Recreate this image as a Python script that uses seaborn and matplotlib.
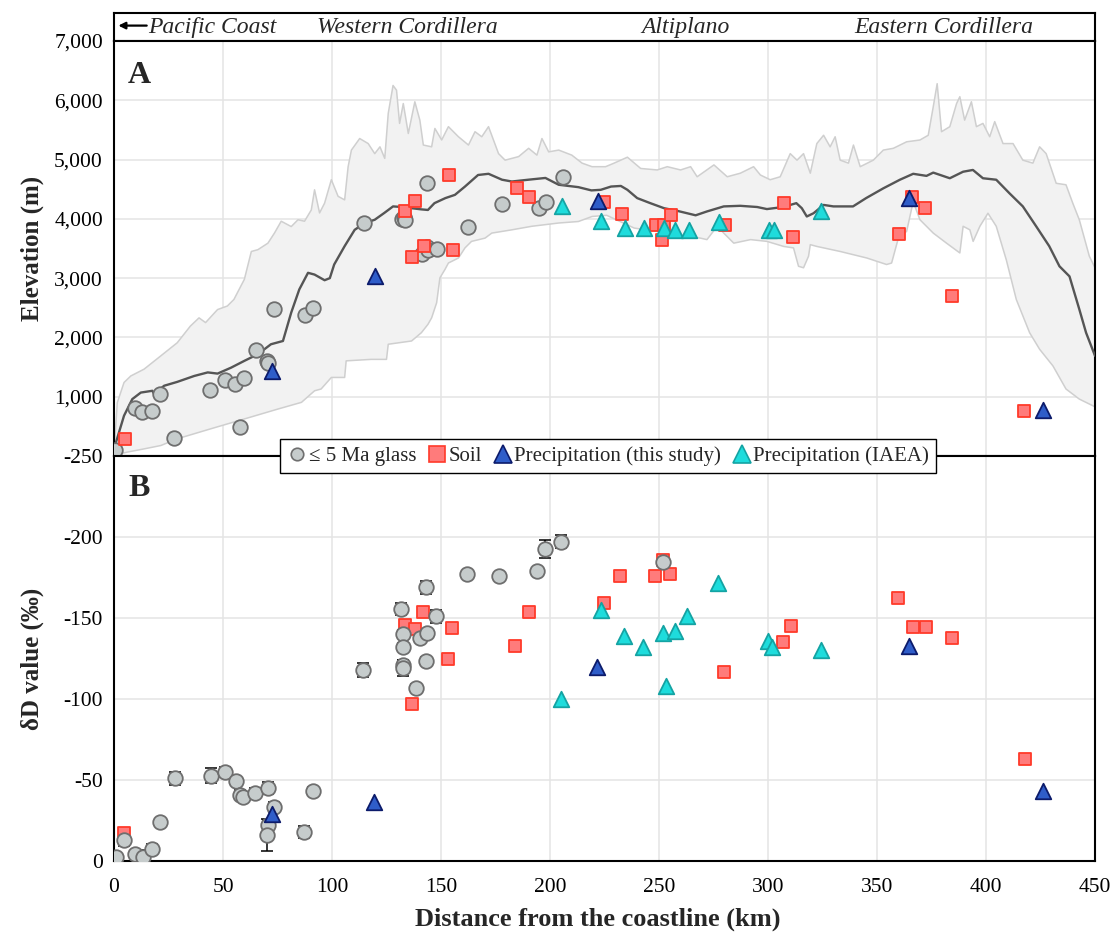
import matplotlib
matplotlib.use("Agg")
import matplotlib.pyplot as plt
import seaborn as sns
from matplotlib.ticker import FuncFormatter
from matplotlib.lines import Line2D

# ---------------- data ----------------
x_ticks = [0, 50, 100, 150, 200, 250, 300, 350, 400, 450]
elev_ticks = [1000, 2000, 3000, 4000, 5000, 6000, 7000]
dD_ticks = [0, -50, -100, -150, -200, -250]
region_labels = ["Western Cordillera", "Altiplano", "Eastern Cordillera"]
region_km = [134.4, 262.0, 380.7]

# topographic swath profile (km, m)
mean_km = [0, 4.6, 8.4, 12.3, 17.6, 18.4, 23, 29, 36.8, 43,
           47.5, 53.7, 59.8, 66, 72, 77.5, 81.3, 85, 89, 92,
           96.6, 99, 101, 105.8, 110.4, 115, 119.6, 124, 128, 132,
           136.5, 141, 144, 147, 152, 156.4, 161, 167, 171.8, 178,
           182.5, 190, 197.9, 204, 213, 219, 223.3, 228, 232.5, 235.5,
           240, 246, 252.3, 258.4, 266.8, 272, 279.7, 287.3, 295, 299.5,
           307, 313, 315.5, 317.8, 320.9, 325.5, 330, 339, 345, 352.9,
           360.5, 366.6, 372.7, 375.8, 383.4, 389.5, 394, 398.6, 404.7, 410.8,
           416.9, 423, 429, 433.7, 438.3, 442.8, 445.9, 450]
mean_elev = [120, 680, 960, 1070, 1100, 1045, 1185, 1250, 1350, 1410,
             1390, 1490, 1605, 1717, 1885, 1940, 2420, 2810, 3090, 3060,
             2965, 3000, 3230, 3540, 3815, 3930, 3985, 4100, 4210, 4200,
             4180, 4160, 4150, 4265, 4350, 4405, 4545, 4740, 4760, 4660,
             4630, 4660, 4690, 4575, 4535, 4480, 4490, 4545, 4555, 4490,
             4350, 4265, 4180, 4135, 4060, 4125, 4210, 4220, 4200, 4165,
             4200, 4265, 4180, 4040, 4095, 4235, 4210, 4210, 4350, 4515,
             4660, 4760, 4725, 4780, 4685, 4795, 4825, 4685, 4660, 4430,
             4210, 3875, 3540, 3200, 3030, 2475, 2080, 1690]

max_km = [0, 1.5, 4.6, 7.7, 13.8, 21.5, 29, 35, 39, 42,
          47.5, 52, 55, 59.8, 63, 66, 70.6, 73.6, 76.7, 81.3,
          84.4, 87.4, 90.5, 92, 94.3, 96.6, 99.7, 102.8, 105.8, 107.4,
          108.9, 112.7, 116.6, 119.6, 122, 124.2, 125.8, 128, 129.6, 131,
          132.7, 135, 138, 140.3, 141.9, 145.7, 147.2, 150.3, 153.4, 158,
          162.6, 165.6, 168.7, 171.8, 176.4, 179.4, 185.6, 190.2, 194, 196.3,
          199.4, 204, 210, 214.7, 219.3, 225.5, 229.4, 235.5, 241.6, 249.2,
          253.8, 259.9, 264.5, 267.5, 275.2, 281.3, 287.3, 293.4, 296.5, 301,
          305.6, 310.2, 313.3, 316.3, 319.4, 322.4, 325.5, 328.5, 330.8, 333.1,
          336.9, 339.2, 342.3, 348.3, 352.9, 357.5, 363.6, 369.7, 373.5, 375.8,
          377.6, 379.6, 383.4, 386.5, 388, 390.2, 393.3, 395.6, 398.6, 401.7,
          404, 407.8, 412.4, 416.9, 421.5, 424.6, 427.6, 432.2, 436.7, 439.8,
          442.8, 447.4, 450]
max_elev = [50, 900, 1240, 1350, 1465, 1690, 1910, 2190, 2330, 2250,
            2470, 2530, 2640, 2980, 3450, 3480, 3590, 3760, 3960, 3870,
            3985, 3960, 4150, 4490, 4100, 4265, 4660, 4380, 4320, 4880,
            5160, 5355, 5270, 5100, 5215, 5020, 5780, 6250, 6170, 5610,
            5945, 5440, 5975, 5665, 5245, 5215, 5525, 5330, 5555, 5385,
            5245, 5470, 5385, 5555, 5100, 4990, 5050, 5190, 5075, 5355,
            5130, 5160, 5075, 4940, 4880, 4880, 4940, 5040, 4850, 4825,
            4880, 4825, 4880, 4710, 4910, 4710, 4770, 4880, 4740, 4660,
            4710, 5100, 4990, 5100, 4770, 5270, 5410, 5215, 5385, 4990,
            4940, 5245, 4880, 4990, 5160, 5190, 5300, 5330, 5410, 5890,
            6280, 5470, 5555, 5945, 6060, 5665, 5975, 5555, 5610, 5385,
            5640, 5270, 5270, 4990, 4940, 5215, 5100, 4600, 4575, 4265,
            3985, 3370, 3175]

min_km = [0, 6, 13.8, 21.5, 29, 44.5, 59.8, 75, 86, 92,
          95, 99.7, 105.8, 106.5, 118, 125, 125.8, 136.5, 141, 144,
          145.7, 148, 149.5, 151.8, 153.4, 158, 161, 164, 170.2, 173.3,
          182.5, 191.7, 204, 213, 219.3, 226, 238.6, 253.8, 263, 269,
          272, 276.7, 279.7, 284.3, 292, 299.5, 307.2, 311.7, 314, 316.3,
          318.6, 319.4, 322.4, 333.1, 345.3, 354.4, 356.7, 359.8, 363.6, 366.6,
          369.7, 375.8, 381.9, 388, 389.5, 392.6, 394.1, 397.2, 400.9, 404.7,
          409.3, 413.9, 420, 424.6, 430.7, 436.7, 442.8, 450]
min_elev = [10, 65, 120, 177, 290, 460, 625, 790, 905, 1100,
            1130, 1325, 1325, 1605, 1630, 1630, 1885, 1940, 2080, 2220,
            2330, 2585, 3005, 3145, 3255, 3340, 3510, 3620, 3675, 3760,
            3815, 3875, 3930, 3955, 4040, 4060, 3845, 3760, 3705, 3675,
            3650, 3875, 3760, 3590, 3650, 3620, 3535, 3510, 3200, 3175,
            3370, 3565, 3535, 3450, 3340, 3230, 3255, 3675, 3790, 4290,
            3985, 3760, 3590, 3425, 3875, 3815, 3620, 3875, 4095, 3875,
            3310, 2640, 2080, 1800, 1520, 1130, 960, 830]

# panel A samples (km, elevation m)
glass_km_A = [0.3, 9.7, 13.0, 17.5, 21.3, 27.6, 44.2, 51.0, 55.7, 57.7,
              59.5, 65.0, 70.2, 70.5, 73.5, 87.4, 91.3, 114.7, 132.2, 133.0,
              133.4, 141.1, 143.4, 144.2, 148.0, 143.4, 162.6, 178.0, 194.8, 198.2,
              205.8]
glass_elev_A = [104, 805, 737, 760, 1040, 312, 1105, 1275, 1207, 496,
                1320, 1795, 1605, 1565, 2473, 2378, 2495, 3930, 4000, 4030,
                3985, 3400, 3525, 3480, 3500, 4610, 3857, 4255, 4190, 4280,
                4700]
soil_km_A = [4.9, 133.7, 138.3, 136.5, 142.2, 155.7, 153.7, 184.8, 190.5, 224.7,
             232.9, 248.5, 252.3, 255.6, 251.2, 280.2, 307.5, 311.3, 360.0, 366.2,
             372.0, 384.6, 417.4]
soil_elev_A = [290, 4140, 4305, 3360, 3535, 3475, 4745, 4515, 4370, 4280,
               4090, 3900, 3900, 4070, 3650, 3900, 4275, 3690, 3740, 4375,
               4180, 2700, 760]
prec_km_A = [72.5, 119.6, 222.0, 364.8, 426.0]
prec_elev_A = [1440, 3040, 4305, 4345, 780]
iaea_km_A = [205.5, 223.6, 234.3, 243.1, 252.3, 257.3, 263.7, 277.4, 300.3, 302.6, 324.2]
iaea_elev_A = [4220, 3960, 3840, 3840, 3840, 3815, 3815, 3955, 3815, 3815, 4125]

# panel B samples (km, dD permil)
glass_km_B = [0.9, 4.6, 9.6, 13.3, 17.4, 21.1, 28.0, 44.5, 51.0, 56.0,
              57.8, 59.2, 64.7, 70.6, 73.4, 70.6, 70.2, 87.2, 91.3, 114.2,
              131.7, 132.6, 132.6, 132.6, 132.6, 138.5, 140.4, 143.6, 143.1, 143.1,
              147.7, 161.9, 176.6, 194.0, 197.7, 205.0, 251.8]
glass_dD_B = [-2.5, -13, -4.3, -2.5, -7.4, -24, -51, -52.7, -55, -49.6,
              -41, -39.7, -42, -45, -33.5, -22.3, -16, -18, -43.4, -117.7,
              -155.5, -140, -132, -121, -119, -107, -137.5, -141, -123.3, -169,
              -151, -177, -176, -179, -192.7, -197, -184.6]
glass_err_B = [2, 3.5, 2, 4.5, 3.3, 2, 4, 4.6, 3, 2.5,
               3, 3, 3.2, 3.7, 3, 3, 10, 3.5, 2, 4.3,
               3.7, 2.5, 2.5, 3, 5, 2, 2.5, 2, 2.5, 4,
               4, 2, 2, 2, 5.5, 4, 2]
soil_km_B = [4.6, 133.5, 138.0, 141.7, 155.0, 153.2, 136.7, 190.4, 184.0, 224.8,
             232.1, 248.2, 251.8, 255.0, 279.8, 306.9, 310.6, 359.6, 366.5, 372.5,
             384.4, 417.9]
soil_dD_B = [-17.3, -145.6, -143, -153.7, -143.7, -124.5, -96.7, -153.7, -133, -159,
             -176, -176, -186, -177, -116.5, -135, -145, -162.3, -144.4, -144.4,
             -137.5, -63.2]
prec_km_B = [72.5, 119.3, 221.6, 364.7, 426.1]
prec_dD_B = [-29, -36.6, -120, -132.6, -43.4]
iaea_km_B = [205.0, 223.4, 234.0, 242.7, 253.2, 251.8, 257.3, 262.8, 277.0, 300.0, 301.8, 324.3]
iaea_dD_B = [-99.8, -155, -138.8, -132, -107.8, -140.6, -141.9, -151, -171.6, -135.7, -132, -130]

legend_labels = ['\u2264 5 Ma glass', 'Soil', 'Precipitation (this study)', 'Precipitation (IAEA)']

# ---------------- style ----------------
sns.set_theme(style="whitegrid")
plt.rcParams['font.family'] = ['Liberation Serif', 'DejaVu Serif']
plt.rcParams['axes.unicode_minus'] = False

GRID = '#E4E4E4'
glass_c = ('#C6CCCC', '#6E6E6E')
soil_c = ('#FF7B7B', '#FF3A2A')
prec_c = ('#2F5DC9', '#0C1B6B')
iaea_c = ('#1EDCDC', '#14A3A3')
glass_style = dict(marker='o', s=110, color=glass_c[0], edgecolor=glass_c[1], linewidth=1.3)
soil_style = dict(marker='s', s=85, color=soil_c[0], edgecolor=soil_c[1], linewidth=1.3)
prec_style = dict(marker='^', s=125, color=prec_c[0], edgecolor=prec_c[1], linewidth=1.3)
iaea_style = dict(marker='^', s=125, color=iaea_c[0], edgecolor=iaea_c[1], linewidth=1.3)

W_FIG, H_FIG = 1115, 941
fig = plt.figure(figsize=(W_FIG / 100, H_FIG / 100), dpi=100)
L = 114 / W_FIG
W = (1095 - 114) / W_FIG
ax_h = fig.add_axes([L, 1 - 41 / H_FIG, W, 28 / H_FIG])
axA = fig.add_axes([L, 1 - 456 / H_FIG, W, 415 / H_FIG])
axB = fig.add_axes([L, 1 - 861 / H_FIG, W, 405 / H_FIG])

# header strip
ax_h.set_xlim(0, 450)
ax_h.set_ylim(0, 1)
ax_h.set_xticks([])
ax_h.set_yticks([])
ax_h.grid(False)
for sp in ax_h.spines.values():
    sp.set_color('black')
    sp.set_linewidth(1.5)
ax_h.annotate('', xy=(2.0, 0.55), xytext=(15.0, 0.55),
              arrowprops=dict(arrowstyle='-|>', color='black', lw=1.6,
                              mutation_scale=10, shrinkA=0, shrinkB=0))
ax_h.text(15.5, 0.47, 'Pacific Coast', style='italic', fontsize=17,
          ha='left', va='center')
for lab, km in zip(region_labels, region_km):
    ax_h.text(km, 0.47, lab, style='italic', fontsize=17, ha='center', va='center')

for ax in (axA, axB):
    ax.set_xlim(0, 450)
    ax.set_axisbelow(True)
    ax.grid(True, color=GRID, lw=1.1)
    ax.set_xticks(x_ticks)
    ax.tick_params(axis='both', length=0, labelsize=15.5, colors='black', pad=8)
    for sp in ax.spines.values():
        sp.set_color('black')
        sp.set_linewidth(1.5)

# ---------------- panel A ----------------
poly_x = max_km + min_km[::-1]
poly_y = max_elev + min_elev[::-1]
axA.fill(poly_x, poly_y, color='#F2F2F2', lw=0, zorder=1)
sns.lineplot(x=max_km, y=max_elev, sort=False, estimator=None, color='#CFCFCF',
             lw=1.1, ax=axA, zorder=2)
sns.lineplot(x=min_km, y=min_elev, sort=False, estimator=None, color='#CFCFCF',
             lw=1.1, ax=axA, zorder=2)
sns.lineplot(x=mean_km, y=mean_elev, sort=False, estimator=None, color='#555555',
             lw=1.7, ax=axA, zorder=3)

sns.scatterplot(x=glass_km_A, y=glass_elev_A, ax=axA, zorder=4, **glass_style)
sns.scatterplot(x=soil_km_A, y=soil_elev_A, ax=axA, zorder=5, **soil_style)
sns.scatterplot(x=iaea_km_A, y=iaea_elev_A, ax=axA, zorder=6, **iaea_style)
sns.scatterplot(x=prec_km_A, y=prec_elev_A, ax=axA, zorder=7, **prec_style)

axA.set_ylim(0, 7000)
axA.set_yticks(elev_ticks)
axA.yaxis.set_major_formatter(FuncFormatter(lambda v, p: f"{int(v):,}"))
axA.set_xticklabels([])
axA.set_xlabel('')
axA.set_ylabel('Elevation (m)', fontsize=18, fontweight='bold')
axA.yaxis.set_label_coords(-0.071, 0.5)
axA.text(0.026, 0.918, 'A', transform=axA.transAxes, fontsize=23,
         fontweight='bold', ha='center', va='center')
if axA.get_legend() is not None:
    axA.get_legend().remove()

# ---------------- panel B ----------------
axB.errorbar(glass_km_B, glass_dD_B, yerr=glass_err_B, fmt='none', ecolor='black',
             elinewidth=1.1, capsize=4, capthick=1.1, zorder=3)
sns.scatterplot(x=soil_km_B, y=soil_dD_B, ax=axB, zorder=4, **soil_style)
sns.scatterplot(x=glass_km_B, y=glass_dD_B, ax=axB, zorder=5, **glass_style)
sns.scatterplot(x=iaea_km_B, y=iaea_dD_B, ax=axB, zorder=6, **iaea_style)
sns.scatterplot(x=prec_km_B, y=prec_dD_B, ax=axB, zorder=7, **prec_style)

axB.set_ylim(0, -250)
axB.set_yticks(dD_ticks)
axB.yaxis.set_major_formatter(FuncFormatter(lambda v, p: f"{int(round(v))}"))
axB.set_xticklabels([str(t) for t in x_ticks])
axB.tick_params(axis='x', pad=12)
axB.set_ylabel('\u03b4D value (\u2030)', fontsize=18, fontweight='bold')
axB.yaxis.set_label_coords(-0.071, 0.5)
axB.set_xlabel('Distance from the coastline (km)', fontsize=19, fontweight='bold')
axB.xaxis.set_label_coords(0.493, -0.114)
axB.text(0.026, 0.92, 'B', transform=axB.transAxes, fontsize=23,
         fontweight='bold', ha='center', va='center')
if axB.get_legend() is not None:
    axB.get_legend().remove()

# legend straddling both panels
def proxy(marker, colors, ms):
    return Line2D([], [], linestyle='none', marker=marker, markersize=ms,
                  markerfacecolor=colors[0], markeredgecolor=colors[1], markeredgewidth=1.2)

handles = [proxy('o', glass_c, 9), proxy('s', soil_c, 11),
           proxy('^', prec_c, 13), proxy('^', iaea_c, 13)]
leg = fig.legend(handles, legend_labels, loc='center',
                 bbox_to_anchor=(608 / W_FIG, 1 - 456 / H_FIG), ncol=4,
                 fontsize=15, frameon=True, fancybox=False, framealpha=1,
                 edgecolor='black', handletextpad=0.05, columnspacing=0.5,
                 handlelength=1.0, borderpad=0.35, borderaxespad=0)
leg.get_frame().set_linewidth(1.0)

fig.savefig('out.png', dpi=100)
